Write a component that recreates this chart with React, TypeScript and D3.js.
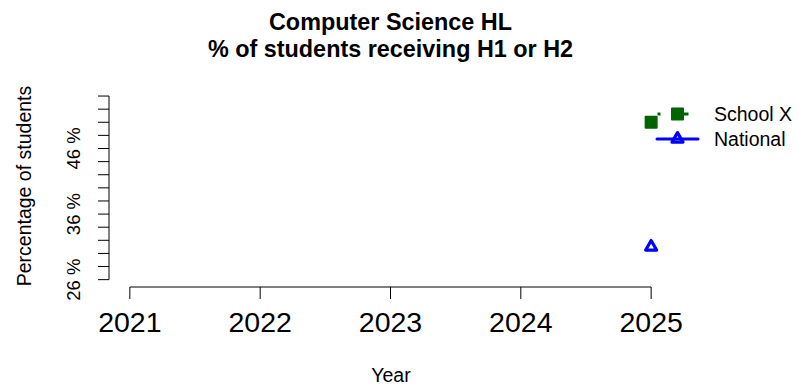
import React from "react";
import * as d3 from "d3";

const years = [2021, 2022, 2023, 2024, 2025];
const schoolX = [{ year: 2025, value: 50 }];
const national = [{ year: 2025, value: 31 }];
const yTicks = [26, 28, 30, 32, 34, 36, 38, 40, 42, 44, 46, 48, 50, 52, 54];
const yLabels = [26, 36, 46];
const titleLines = ["Computer Science HL", "% of students receiving H1 or H2"];
const legendItems = ["School X", "National"];

const W = 799;
const H = 386;
const FONT = "'Liberation Sans', Arial, Helvetica, sans-serif";
const GREEN = "#006400";
const BLUE = "#0000FF";

export default function App() {
  const x = d3.scaleLinear().domain([2021 - 0.16, 2025 + 0.16]).range([109, 672]);
  const y = d3.scaleLinear().domain([26 - 1.12, 54 + 1.12]).range([287, 88.7]);
  const tri = d3.symbol().type(d3.symbolTriangle).size(52);

  const legX = 677.5;
  const legY = [114, 139];

  return (
    <svg width={W} height={H} style={{ position: "absolute", left: 0, top: 0, background: "#fff" }}>
      <rect width={W} height={H} fill="#fff" />
      {/* title */}
      {titleLines.map((t, i) => (
        <text key={t} x={390.5} y={30 + i * 27} textAnchor="middle" fontFamily={FONT} fontWeight="bold" fontSize={23.4} fill="#000">
          {t}
        </text>
      ))}
      {/* y axis */}
      <line x1={109} x2={109} y1={y(yTicks[0])} y2={y(yTicks[yTicks.length - 1])} stroke="#000" strokeWidth={1} />
      {yTicks.map((t) => (
        <line key={t} x1={98} x2={109} y1={y(t)} y2={y(t)} stroke="#000" strokeWidth={1} />
      ))}
      {yLabels.map((t) => (
        <text key={t} transform={`translate(80,${y(t)}) rotate(-90)`} textAnchor="middle" fontFamily={FONT} fontSize={18.5} fill="#000">
          {`${t} %`}
        </text>
      ))}
      <text transform={`translate(31,${186}) rotate(-90)`} textAnchor="middle" fontFamily={FONT} fontSize={19.5} fill="#000">
        Percentage of students
      </text>
      {/* x axis */}
      <line x1={x(years[0])} x2={x(years[years.length - 1])} y1={287} y2={287} stroke="#000" strokeWidth={1} />
      {years.map((yr) => (
        <g key={yr}>
          <line x1={x(yr)} x2={x(yr)} y1={287} y2={299} stroke="#000" strokeWidth={1} />
          <text x={x(yr)} y={332} textAnchor="middle" fontFamily={FONT} fontSize={28.5} fill="#000">
            {yr}
          </text>
        </g>
      ))}
      <text x={391} y={381.5} textAnchor="middle" fontFamily={FONT} fontSize={19.5} fill="#000">
        Year
      </text>
      {/* data */}
      {schoolX.map((d) => (
        <rect key={d.year} x={x(d.year) - 5.5} y={y(d.value) - 5.5} width={11} height={11} fill={GREEN} stroke={GREEN} strokeWidth={2} strokeLinejoin="round" />
      ))}
      {national.map((d) => (
        <path key={d.year} d={tri() || ""} transform={`translate(${x(d.year)},${y(d.value)})`} fill="none" stroke={BLUE} strokeWidth={3.2} strokeLinejoin="round" />
      ))}
      {/* legend */}
      <line x1={657.5} x2={697} y1={legY[0]} y2={legY[0]} stroke={GREEN} strokeWidth={3} strokeDasharray="3 23 5 100" />
      <rect x={legX - 5.5} y={legY[0] - 5.5} width={11} height={11} fill={GREEN} stroke={GREEN} strokeWidth={2} strokeLinejoin="round" />
      <line x1={657} x2={698} y1={legY[1]} y2={legY[1]} stroke={BLUE} strokeWidth={3} strokeLinecap="round" />
      <path d={tri() || ""} transform={`translate(${legX},${legY[1]})`} fill="none" stroke={BLUE} strokeWidth={3.2} strokeLinejoin="round" />
      {legendItems.map((t, i) => (
        <text key={t} x={714} y={legY[i] + 7} fontFamily={FONT} fontSize={19.5} fill="#000">
          {t}
        </text>
      ))}
    </svg>
  );
}
